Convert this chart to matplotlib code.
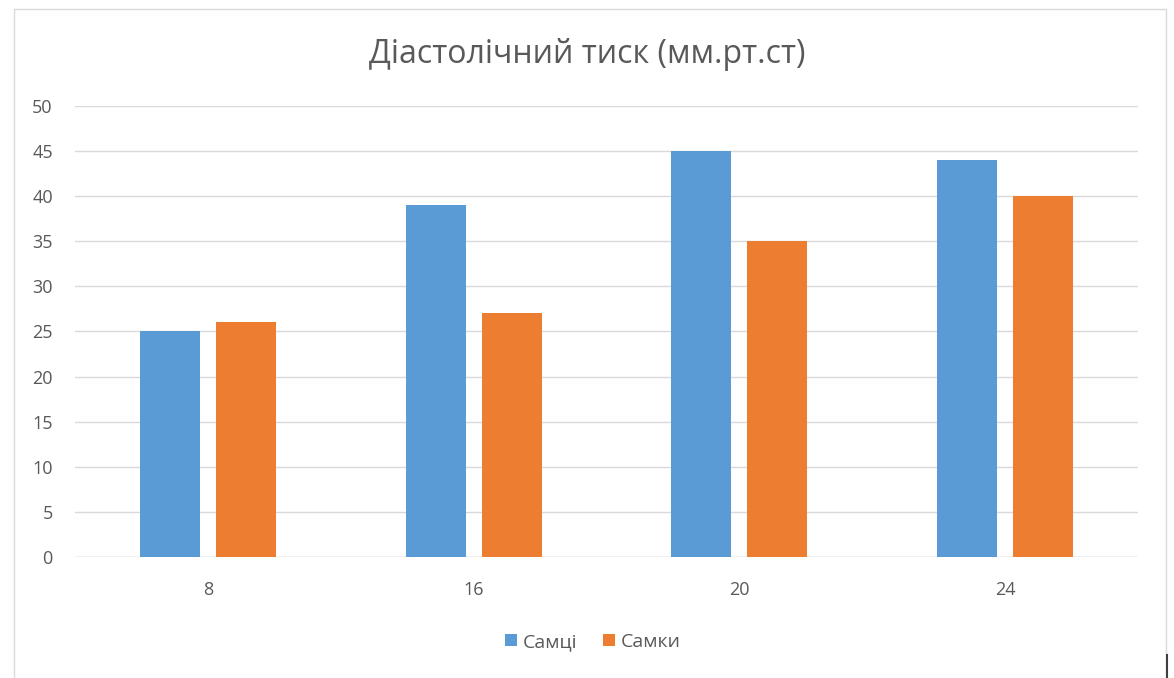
import matplotlib.pyplot as plt
import numpy as np
from matplotlib.patches import Rectangle

plt.rcParams['font.family'] = ['Open Sans', 'DejaVu Sans']

categories = ['8', '16', '20', '24']
males = [25, 39, 45, 44]      # Самці
females = [26, 27, 35, 40]    # Самки
yticks = list(range(0, 55, 5))

blue = '#5B9BD5'
orange = '#ED7D31'
text_c = '#595959'

fig = plt.figure(figsize=(11.74, 6.78), dpi=100)
ax = fig.add_axes([0.0639, 0.1785, 0.9054, 0.6652])

x = np.arange(len(categories))
w = 0.226
off = 0.143
ax.bar(x - off, males, w, color=blue, label='Самці', zorder=3)
ax.bar(x + off, females, w, color=orange, label='Самки', zorder=3)

ax.set_xlim(-0.5, len(categories) - 0.5)
ax.set_ylim(0, 50)
ax.set_yticks(yticks)
ax.set_xticks(x)
ax.set_xticklabels(categories)
ax.tick_params(axis='both', length=0, colors=text_c, labelsize=13)
ax.tick_params(axis='y', pad=16)
ax.tick_params(axis='x', pad=17)
ax.grid(axis='y', color='#D9D9D9', linewidth=1, zorder=0)
for s in ax.spines.values():
    s.set_visible(False)
ax.axhline(0, color='#D9D9D9', linewidth=1, zorder=2)

fig.text(0.5, 0.919, 'Діастолічний тиск (мм.рт.ст)', ha='center', va='center',
         fontsize=23, color=text_c)

ax.legend(loc='center', bbox_to_anchor=(0.487, -0.188), ncol=2, frameon=False,
          fontsize=14, labelcolor=text_c, handlelength=0.62, handleheight=0.62,
          handletextpad=0.3, columnspacing=1.3)

# outer chart frame
fig.patches.append(Rectangle((14 / 1174, -0.01), (1166 - 14) / 1174, 1 - 9 / 678 + 0.01,
                             transform=fig.transFigure, fill=False,
                             edgecolor='#D9D9D9', linewidth=1))
fig.lines.append(plt.Line2D([1167 / 1174, 1167 / 1174], [0, 23 / 678],
                            transform=fig.transFigure, color='#404040', linewidth=1.5))

fig.savefig('out.png', dpi=100)
